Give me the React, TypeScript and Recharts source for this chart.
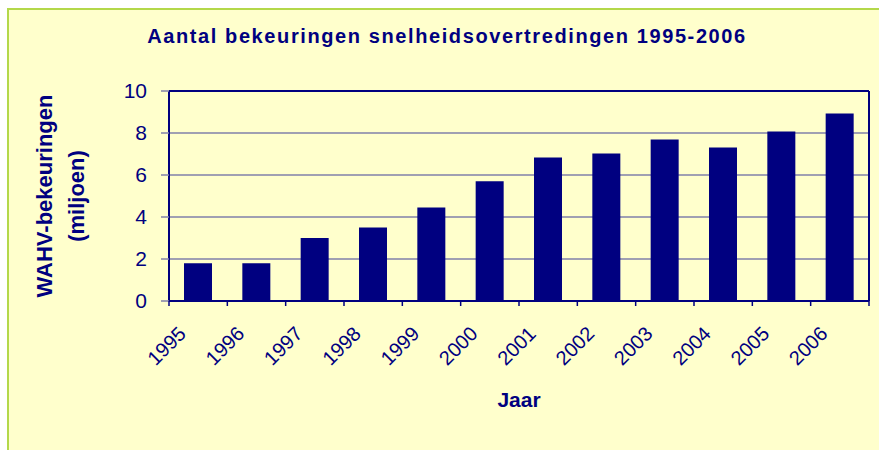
import React from "react";
import { BarChart, Bar, XAxis, YAxis, CartesianGrid } from "recharts";

const years = [
  "1995",
  "1996",
  "1997",
  "1998",
  "1999",
  "2000",
  "2001",
  "2002",
  "2003",
  "2004",
  "2005",
  "2006",
];

// WAHV-bekeuringen in miljoenen
const bekeuringen = [1.8, 1.8, 3.0, 3.5, 4.45, 5.7, 6.83, 7.02, 7.69, 7.31, 8.07, 8.93];

const yTicks = [0, 2, 4, 6, 8, 10];

const NAVY = "#000080";
const GRID = "#8080aa";
const FONT = "Arial, 'Liberation Sans', sans-serif";

const W = 879;
const H = 450;
const margin = { top: 90, right: 8, left: 109, bottom: 89 };
const Y_AXIS_W = 60;
const RIGHT_W = 2;
const X_AXIS_H = 60;

const band = (W - margin.left - Y_AXIS_W - margin.right - RIGHT_W) / years.length;

const YearTick = (props: any) => {
  const { x, y, payload, index } = props;
  const half = band / 2;
  const tx = x - 11;
  const ty = y + 34;
  return (
    <g>
      <line x1={x - half} y1={y} x2={x - half} y2={y + 5} stroke={NAVY} strokeWidth={1.5} />
      {index === years.length - 1 && (
        <line x1={x + half} y1={y} x2={x + half} y2={y + 5} stroke={NAVY} strokeWidth={1.5} />
      )}
      <text
        x={tx}
        y={ty}
        transform={`rotate(-45, ${tx}, ${ty})`}
        textAnchor="end"
        fill={NAVY}
        fontSize={20}
        fontFamily={FONT}
      >
        {payload.value}
      </text>
    </g>
  );
};

export default function App() {
  const data = years.map((jaar, i) => ({ jaar, waarde: bekeuringen[i] }));

  return (
    <div style={{ position: "absolute", left: 0, top: 0, width: W, height: H, background: "#fff" }}>
      {/* frame */}
      <div
        style={{
          position: "absolute",
          left: 7,
          top: 8,
          right: 0,
          bottom: 0,
          background: "#FFFFCC",
          borderLeft: "2px solid #b4d84a",
          borderTop: "2px solid #b4d84a",
        }}
      />
      <div style={{ position: "absolute", left: 0, top: 0 }}>
        <BarChart width={W} height={H} data={data} margin={margin}>
          <CartesianGrid horizontal vertical={false} stroke={GRID} strokeWidth={1.5} />
          <XAxis
            dataKey="jaar"
            height={X_AXIS_H}
            axisLine={{ stroke: NAVY, strokeWidth: 2 }}
            tickLine={false}
            tickSize={0}
            tickMargin={0}
            interval={0}
            tick={<YearTick />}
          />
          <XAxis
            xAxisId="top"
            dataKey="jaar"
            orientation="top"
            height={1}
            tick={false}
            tickLine={false}
            axisLine={{ stroke: NAVY, strokeWidth: 2 }}
          />
          <YAxis
            width={Y_AXIS_W}
            domain={[0, 10]}
            ticks={yTicks}
            interval={0}
            axisLine={{ stroke: NAVY, strokeWidth: 2 }}
            tickLine={{ stroke: GRID, strokeWidth: 1.5 }}
            tickSize={8}
            tickMargin={14}
            tick={{ fill: NAVY, fontSize: 21, fontFamily: FONT }}
          />
          <YAxis
            yAxisId="right"
            orientation="right"
            width={RIGHT_W}
            domain={[0, 10]}
            tick={false}
            tickLine={false}
            axisLine={{ stroke: NAVY, strokeWidth: 2 }}
          />
          <Bar dataKey="waarde" fill={NAVY} barSize={28} isAnimationActive={false} />
        </BarChart>
      </div>
      <svg
        width={W}
        height={H}
        style={{ position: "absolute", left: 0, top: 0, pointerEvents: "none" }}
      >
        <text
          x={447}
          y={43}
          textAnchor="middle"
          fill={NAVY}
          fontSize={20}
          fontWeight="bold"
          letterSpacing={1.6}
          fontFamily={FONT}
        >
          Aantal bekeuringen snelheidsovertredingen 1995-2006
        </text>
        <text
          x={52}
          y={196}
          transform="rotate(-90, 52, 196)"
          textAnchor="middle"
          fill={NAVY}
          fontSize={22}
          fontWeight="bold"
          fontFamily={FONT}
        >
          WAHV-bekeuringen
        </text>
        <text
          x={84}
          y={196}
          transform="rotate(-90, 84, 196)"
          textAnchor="middle"
          fill={NAVY}
          fontSize={22}
          fontWeight="bold"
          fontFamily={FONT}
        >
          (miljoen)
        </text>
        <text
          x={519}
          y={407}
          textAnchor="middle"
          fill={NAVY}
          fontSize={21}
          fontWeight="bold"
          fontFamily={FONT}
        >
          Jaar
        </text>
      </svg>
    </div>
  );
}
